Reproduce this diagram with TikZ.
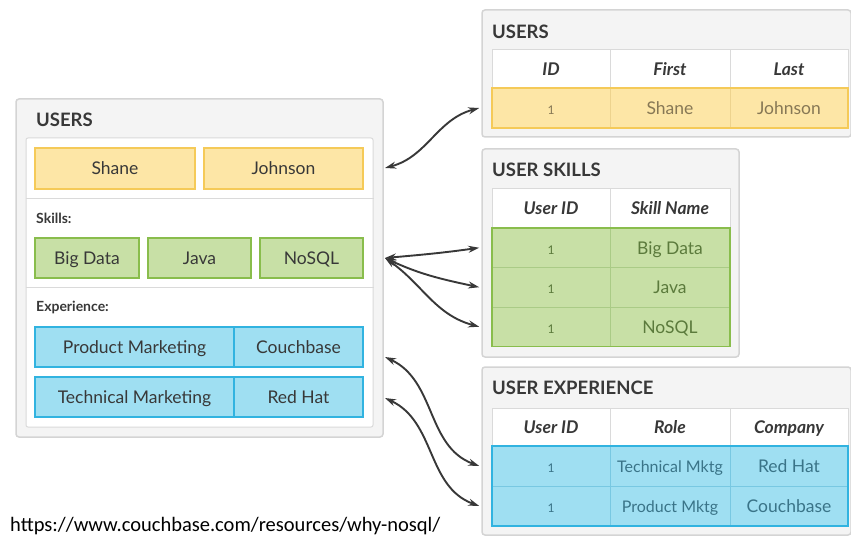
\documentclass[tikz,border=0pt]{standalone}
\usepackage{fontspec}
\setmainfont{Lato}
\newfontfamily\linkfont{Carlito}
\usetikzlibrary{arrows.meta}

\definecolor{panelFill}{HTML}{F4F4F4}
\definecolor{panelLine}{HTML}{D4D4D4}
\definecolor{gridLine}{HTML}{DADADA}
\definecolor{inkGray}{HTML}{383838}
\definecolor{yellowFill}{HTML}{FDE6A6}
\definecolor{yellowLine}{HTML}{F5CA58}
\definecolor{yellowGrid}{HTML}{EDD38E}
\definecolor{yellowText}{HTML}{877855}
\definecolor{greenFill}{HTML}{C8E0A6}
\definecolor{greenLine}{HTML}{89BD4C}
\definecolor{greenGrid}{HTML}{AACB86}
\definecolor{greenText}{HTML}{5B7A3C}
\definecolor{blueFill}{HTML}{9FDFF2}
\definecolor{blueLine}{HTML}{31B3E0}
\definecolor{blueGrid}{HTML}{78C8E2}
\definecolor{blueText}{HTML}{3A7488}

\begin{document}
\begin{tikzpicture}
[x=1pt,y=-1pt,
  panelDecorate/.style={draw=panelLine,fill=panelFill,line width=1.5pt,rounded corners=3pt,inner sep=0pt},
  innerDecorate/.style={draw=gridLine,fill=white,line width=1pt,rounded corners=2pt,inner sep=0pt},
  titleDecorate/.style={anchor=west,inner sep=0pt,text=inkGray,font=\bfseries\fontsize{18.5}{20}\selectfont},
  smallTitle/.style={anchor=west,inner sep=0pt,text=inkGray,font=\bfseries\fontsize{14}{16}\selectfont},
  cellDecorate/.style={shape=rectangle,inner sep=0pt,outer sep=0pt,line width=1.5pt,text=inkGray,
    text height=14pt,text depth=1pt,font=\fontsize{17.5}{20}\selectfont},
  yellowBox/.style={cellDecorate,draw=yellowLine,fill=yellowFill},
  greenBox/.style={cellDecorate,draw=greenLine,fill=greenFill},
  blueBox/.style={cellDecorate,draw=blueLine,fill=blueFill},
  headCell/.style={cellDecorate,draw=gridLine,fill=white,line width=1pt,font=\bfseries\itshape\fontsize{17.5}{20}\selectfont},
  bodyCell/.style={cellDecorate,line width=1pt},
  lineDecorate/.style={{Stealth[length=11pt,width=7pt]}-{Stealth[length=11pt,width=7pt]},line width=1.9pt,draw=inkGray}]
\useasboundingbox (0,0) rectangle (851,537);

%% left panel: one document
\node (leftPanel) [panelDecorate,minimum width=367,minimum height=338] at (199.5,268) {};
\node (leftInner) [innerDecorate,minimum width=347,minimum height=289] at (199.5,282.5) {};
\draw[gridLine,line width=1pt] (leftInner.west |- 0,199) -- (leftInner.east |- 0,199);
\draw[gridLine,line width=1pt] (leftInner.west |- 0,288) -- (leftInner.east |- 0,288);
\node (leftTitle) [titleDecorate] at (36,120) {USERS};
\node (skillsTitle) [smallTitle] at (36,218) {Skills:};
\node (expTitle) [smallTitle] at (36,307) {Experience:};

\foreach \nodename/\xa/\xb/\txt in {
  shane/35/195/Shane, johnson/204/363/Johnson}
{
  \node (\nodename) [yellowBox,minimum width=\xb-\xa,minimum height=41] at ({(\xa+\xb)/2},168.5) {\txt};
}
\foreach \nodename/\xa/\xb/\txt in {
  bigdata/35/139/Big Data, java/148/251/Java, nosql/260/363/NoSQL}
{
  \node (\nodename) [greenBox,minimum width=\xb-\xa,minimum height=40] at ({(\xa+\xb)/2},258) {\txt};
}
\foreach \nodename/\xa/\xb/\y/\txt in {
  pm/35/234/347/Product Marketing, cb/234/363/347/Couchbase,
  tm/35/234/397/Technical Marketing, rh/234/363/397/Red Hat}
{
  \node (\nodename) [blueBox,minimum width=\xb-\xa,minimum height=40] at ({(\xa+\xb)/2},\y) {\txt};
}

%% right panel: users table
\node (usersPanel) [panelDecorate,minimum width=369,minimum height=127] at (666.5,73.5) {};
\node (usersTitle) [titleDecorate] at (492,32) {USERS};
\foreach \nodename/\xa/\xb/\txt in {
  uHeadA/492/610/ID, uHeadB/610/730/First, uHeadC/730/848/Last}
{
  \node (\nodename) [headCell,minimum width=\xb-\xa,minimum height=38] at ({(\xa+\xb)/2},69) {\txt};
}
\node (uRowA) [bodyCell,draw=yellowGrid,fill=yellowFill,text=yellowText,minimum width=118,minimum height=40,font=\fontsize{12}{14}\selectfont] at (551,108) {1};
\node (uRowB) [bodyCell,draw=yellowGrid,fill=yellowFill,text=yellowText,minimum width=120,minimum height=40] at (670,108) {Shane};
\node (uRowC) [bodyCell,draw=yellowGrid,fill=yellowFill,text=yellowText,minimum width=118,minimum height=40] at (789,108) {Johnson};
\draw[yellowLine,line width=1.5pt] (uRowA.north west) rectangle (uRowC.south east);

%% right panel: skills table
\node (skillsPanel) [panelDecorate,minimum width=257,minimum height=208] at (610.5,253) {};
\node (skillsTitleR) [titleDecorate] at (492,170) {USER SKILLS};
\foreach \nodename/\xa/\xb/\txt in {
  sHeadA/492/610/User ID, sHeadB/610/730/Skill Name}
{
  \node (\nodename) [headCell,minimum width=\xb-\xa,minimum height=39] at ({(\xa+\xb)/2},208.5) {\txt};
}
\foreach \n/\y/\txt in {1/247.75/Big Data, 2/287.25/Java, 3/326.75/NoSQL}
{
  \node (sIdRow\n) [bodyCell,draw=greenGrid,fill=greenFill,text=greenText,minimum width=118,minimum height=39.5,font=\fontsize{12}{14}\selectfont] at (551,\y) {1};
  \node (sSkillRow\n) [bodyCell,draw=greenGrid,fill=greenFill,text=greenText,minimum width=120,minimum height=39.5] at (670,\y) {\txt};
}
\draw[greenLine,line width=1.5pt] (sIdRow1.north west) rectangle (sSkillRow3.south east);

%% right panel: experience table
\node (expPanel) [panelDecorate,minimum width=369,minimum height=168] at (666.5,451) {};
\node (expTitleR) [titleDecorate] at (492,388) {USER EXPERIENCE};
\foreach \nodename/\xa/\xb/\txt in {
  eHeadA/492/610/User ID, eHeadB/610/730/Role, eHeadC/730/848/Company}
{
  \node (\nodename) [headCell,minimum width=\xb-\xa,minimum height=38] at ({(\xa+\xb)/2},427) {\txt};
}
\foreach \n/\y/\role/\firm in {1/466/Technical Mktg/Red Hat, 2/506/Product Mktg/Couchbase}
{
  \node (eIdRow\n) [bodyCell,draw=blueGrid,fill=blueFill,text=blueText,minimum width=118,minimum height=40,font=\fontsize{12}{14}\selectfont] at (551,\y) {1};
  \node (eRoleRow\n) [bodyCell,draw=blueGrid,fill=blueFill,text=blueText,minimum width=120,minimum height=40,font=\fontsize{16}{18}\selectfont] at (670,\y) {\role};
  \node (eFirmRow\n) [bodyCell,draw=blueGrid,fill=blueFill,text=blueText,minimum width=118,minimum height=40] at (789,\y) {\firm};
}
\draw[blueLine,line width=1.5pt] (eIdRow1.north west) rectangle (eFirmRow2.south east);

%% connector ends
\coordinate (lUsers) at (385,168);
\coordinate (lSkills) at (385,258);
\coordinate (lExpA) at (385,357);
\coordinate (lExpB) at (385,398);
\coordinate (rUsers) at ([xshift=-2]usersPanel.west |- uRowA);
\coordinate (rSkillA) at ([xshift=-2]skillsPanel.west |- sIdRow1);
\coordinate (rSkillB) at ([xshift=-2]skillsPanel.west |- sIdRow2);
\coordinate (rSkillC) at ([xshift=-2]skillsPanel.west |- sIdRow3);
\coordinate (rExpA) at ([xshift=-2]expPanel.west |- eIdRow1);
\coordinate (rExpB) at ([xshift=-2]expPanel.west |- eIdRow2);

%% connectors
\path
\foreach \startnode/\endnode/\o/\i in {
  lUsers/rUsers/15/195,
  lSkills/rSkillA/5/188, lSkills/rSkillB/-25/168, lSkills/rSkillC/-35/165,
  lExpA/rExpA/-25/160, lExpB/rExpB/-25/160}
{
  (\startnode) edge[lineDecorate,out=\o,in=\i] (\endnode)
};

%% source
\node (source) [anchor=base west,inner sep=0pt,text=black,font=\linkfont\fontsize{20.5}{22}\selectfont] at (10,531) {https://www.couchbase.com/resources/why-nosql/};
\end{tikzpicture}
\end{document}
